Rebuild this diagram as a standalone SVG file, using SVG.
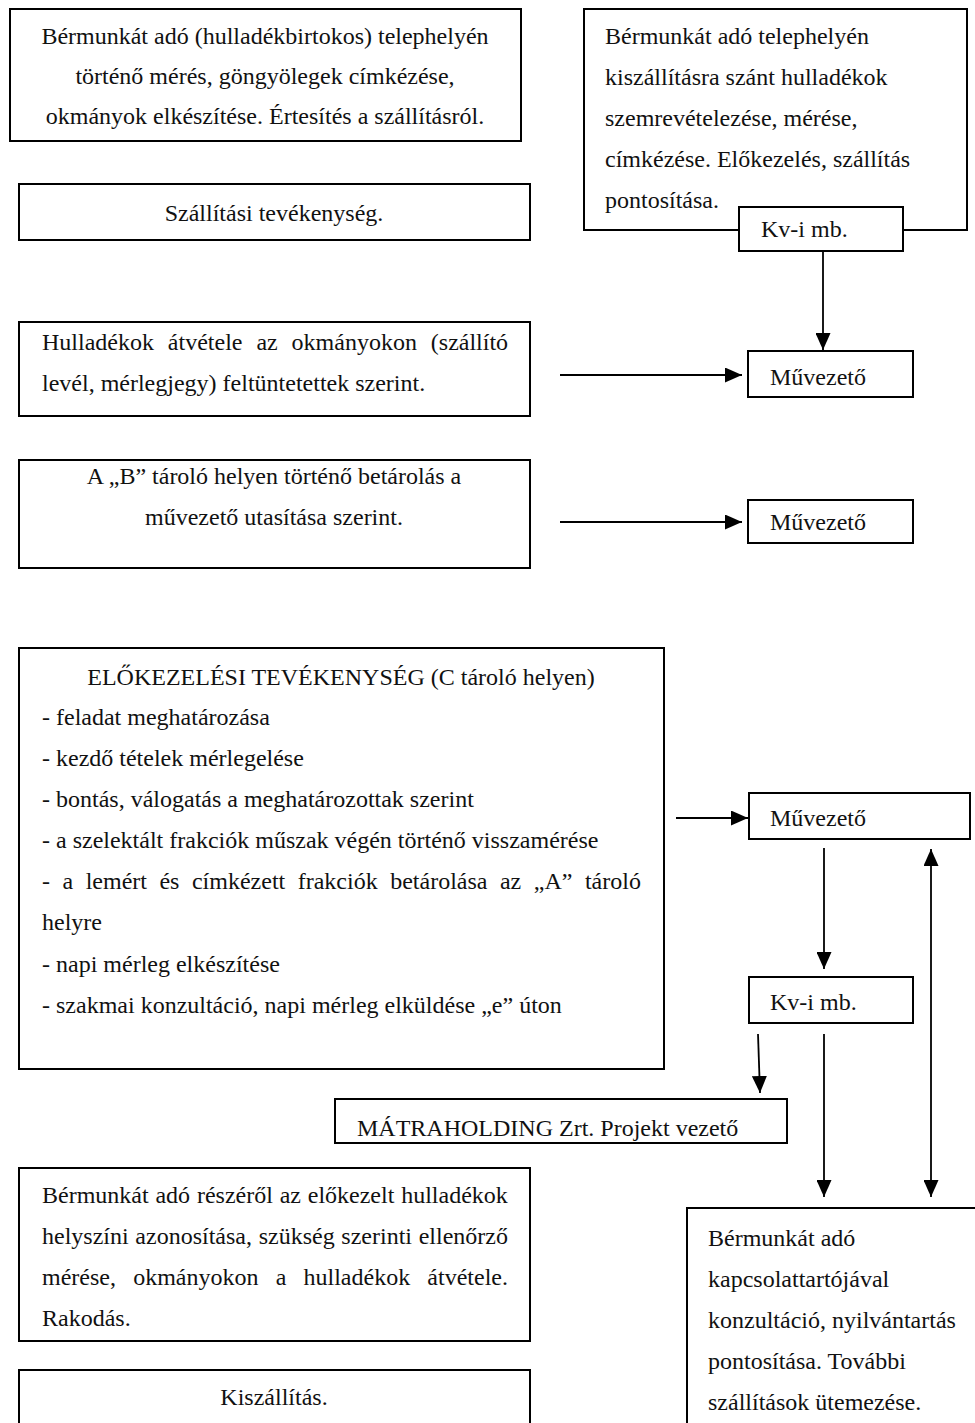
<svg xmlns="http://www.w3.org/2000/svg" width="975" height="1423" viewBox="0 0 975 1423">
<style>
.b{fill:#fff;stroke:#000;stroke-width:2}
.t{font-family:"Liberation Serif","Times New Roman",serif;font-size:24px;fill:#111}
.c{text-anchor:middle}
.a{stroke:#000;stroke-width:1.8;fill:none}
</style>
<defs>
<marker id="ah" viewBox="0 0 17 15" refX="17" refY="7.5" markerWidth="17" markerHeight="15" orient="auto-start-reverse" markerUnits="userSpaceOnUse"><path d="M0,0 L17,7.5 L0,15 z" fill="#000"/></marker>
<clipPath id="mclip"><rect x="336" y="1100" width="450" height="42"/></clipPath>
</defs>
<rect width="975" height="1423" fill="#fff"/>
<g id="connectors">
<line class="a" x1="823" y1="252" x2="823" y2="350" marker-end="url(#ah)"/>
<line class="a" x1="560" y1="375" x2="742" y2="375" marker-end="url(#ah)"/>
<line class="a" x1="560" y1="522" x2="742" y2="522" marker-end="url(#ah)"/>
<line class="a" x1="676" y1="818" x2="748" y2="818" marker-end="url(#ah)"/>
<line class="a" x1="824" y1="848" x2="824" y2="969" marker-end="url(#ah)"/>
<line class="a" x1="931" y1="849" x2="931" y2="1197" marker-start="url(#ah)" marker-end="url(#ah)"/>
<line class="a" x1="758" y1="1034" x2="760" y2="1093" marker-end="url(#ah)"/>
<line class="a" x1="824" y1="1034" x2="824" y2="1197" marker-end="url(#ah)"/>
</g>
<g id="n1">
<rect class="b" x="10" y="9" width="511" height="132"/>
<text class="t c" x="265" y="44">Bérmunkát adó (hulladékbirtokos) telephelyén</text>
<text class="t c" x="265" y="84">történő mérés, göngyölegek címkézése,</text>
<text class="t c" x="265" y="124">okmányok elkészítése. Értesítés a szállításról.</text>
</g>
<g id="n2">
<rect class="b" x="584" y="9" width="383" height="221"/>
<text class="t" x="605" y="44">Bérmunkát adó telephelyén</text>
<text class="t" x="605" y="85">kiszállításra szánt hulladékok</text>
<text class="t" x="605" y="126">szemrevételezése, mérése,</text>
<text class="t" x="605" y="167">címkézése. Előkezelés, szállítás</text>
<text class="t" x="605" y="208">pontosítása.</text>
</g>
<g id="n3">
<rect class="b" x="739" y="207" width="164" height="44"/>
<text class="t" x="761" y="237">Kv-i mb.</text>
</g>
<g id="n4">
<rect class="b" x="19" y="184" width="511" height="56"/>
<text class="t c" x="274" y="221">Szállítási tevékenység.</text>
</g>
<g id="n5">
<rect class="b" x="19" y="322" width="511" height="94"/>
<text class="t" x="42" y="350" word-spacing="7.9">Hulladékok átvétele az okmányokon (szállító</text>
<text class="t" x="42" y="391">levél, mérlegjegy) feltüntetettek szerint.</text>
</g>
<g id="n6">
<rect class="b" x="748" y="351" width="165" height="46"/>
<text class="t" x="770" y="385">Művezető</text>
</g>
<g id="n7">
<rect class="b" x="19" y="460" width="511" height="108"/>
<text class="t c" x="274" y="484">A „B” tároló helyen történő betárolás a</text>
<text class="t c" x="274" y="525">művezető utasítása szerint.</text>
</g>
<g id="n8">
<rect class="b" x="748" y="500" width="165" height="43"/>
<text class="t" x="770" y="530">Művezető</text>
</g>
<g id="n9">
<rect class="b" x="19" y="648" width="645" height="421"/>
<text class="t c" x="341" y="685">ELŐKEZELÉSI TEVÉKENYSÉG (C tároló helyen)</text>
<text class="t" x="42" y="725">- feladat meghatározása</text>
<text class="t" x="42" y="766">- kezdő tételek mérlegelése</text>
<text class="t" x="42" y="807">- bontás, válogatás a meghatározottak szerint</text>
<text class="t" x="42" y="848">- a szelektált frakciók műszak végén történő visszamérése</text>
<text class="t" x="42" y="889" word-spacing="6.5">- a lemért és címkézett frakciók betárolása az „A” tároló</text>
<text class="t" x="42" y="930">helyre</text>
<text class="t" x="42" y="972">- napi mérleg elkészítése</text>
<text class="t" x="42" y="1013">- szakmai konzultáció, napi mérleg elküldése „e” úton</text>
</g>
<g id="n10">
<rect class="b" x="749" y="793" width="221" height="46"/>
<text class="t" x="770" y="826">Művezető</text>
</g>
<g id="n11">
<rect class="b" x="749" y="977" width="164" height="46"/>
<text class="t" x="770" y="1010">Kv-i mb.</text>
</g>
<g id="n12">
<rect class="b" x="335" y="1099" width="452" height="44"/>
<text class="t" x="357" y="1136" clip-path="url(#mclip)">MÁTRAHOLDING Zrt. Projekt vezető</text>
</g>
<g id="n13">
<rect class="b" x="19" y="1168" width="511" height="173"/>
<text class="t" x="42" y="1203" word-spacing="0.8">Bérmunkát adó részéről az előkezelt hulladékok</text>
<text class="t" x="42" y="1244" word-spacing="0.7">helyszíni azonosítása, szükség szerinti ellenőrző</text>
<text class="t" x="42" y="1285" word-spacing="11.2">mérése, okmányokon a hulladékok átvétele.</text>
<text class="t" x="42" y="1326">Rakodás.</text>
</g>
<g id="n14">
<rect class="b" x="19" y="1370" width="511" height="70"/>
<text class="t c" x="274" y="1405">Kiszállítás.</text>
</g>
<g id="n15">
<rect class="b" x="687" y="1208" width="300" height="230"/>
<text class="t" x="708" y="1246">Bérmunkát adó</text>
<text class="t" x="708" y="1287">kapcsolattartójával</text>
<text class="t" x="708" y="1328">konzultáció, nyilvántartás</text>
<text class="t" x="708" y="1369">pontosítása. További</text>
<text class="t" x="708" y="1410">szállítások ütemezése.</text>
</g>
</svg>
